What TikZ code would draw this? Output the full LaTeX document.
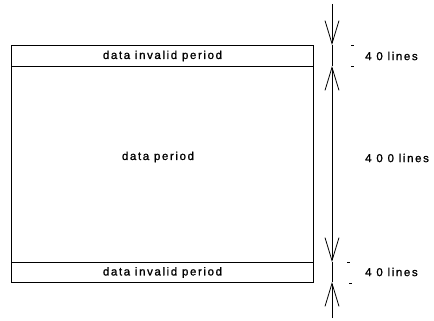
\documentclass[tikz,border=0pt]{standalone}
\usepackage{fontspec}
\setmainfont{Liberation Sans}
\newfontfamily\lblfont[LetterSpace=14,FakeBold=1.2]{Liberation Sans}
\usetikzlibrary{arrows.meta}
\begin{document}
\begin{tikzpicture}[x=1pt,y=-1pt,
  band/.style={draw,line width=1pt,minimum width=302pt,anchor=north west,inner sep=0pt,
    font=\lblfont\fontsize{11.5}{12}\selectfont},
  dimline/.style={line width=0.8pt},
  barb/.tip={Straight Barb[length=23pt,width=14pt,line width=0.8pt]},
  lbl/.style={anchor=west,inner sep=0pt,font=\lblfont\fontsize{11.5}{12}\selectfont},
  tick/.style={line width=0.8pt}]
\useasboundingbox (0,0) rectangle (434,321);
% bands
\node[band,minimum height=21pt] (top) at (11,45) {data invalid period};
\node[band,minimum height=196pt] (mid) at (11,66) {};
\node[band,minimum height=20pt] (bot) at (11,262) {data invalid period};
\node[lbl,anchor=center] (midtxt) at (158,157) {data period};
% dimension line
\coordinate (d0) at (332,4);
\coordinate (d1) at (332,45);
\coordinate (d2) at (332,66);
\coordinate (d3) at (332,262);
\coordinate (d4) at (332,282);
\coordinate (d5) at (332,318);
\draw[dimline,-{barb}] (d0) -- (d1);
\draw[dimline] (d1) -- (d2);
\draw[dimline,{barb}-{barb}] (d2) -- (d3);
\draw[dimline] (d3) -- (d4);
\draw[dimline,-{barb}] (d5) -- (d4);
% ticks
\coordinate (k1) at (351,45);
\coordinate (k2) at (351,66);
\coordinate (k3) at (347,262);
\coordinate (k4) at (349,283);
\foreach \k in {k1,k2,k3,k4} \draw[tick] (\k) -- ++(2.5,0);
% labels
\node[lbl] (l1) at (365,56) {4 0 lines};
\node[lbl] (l2) at (365,158) {4 0 0 lines};
\node[lbl] (l3) at (365,272) {4 0 lines};
\end{tikzpicture}
\end{document}
